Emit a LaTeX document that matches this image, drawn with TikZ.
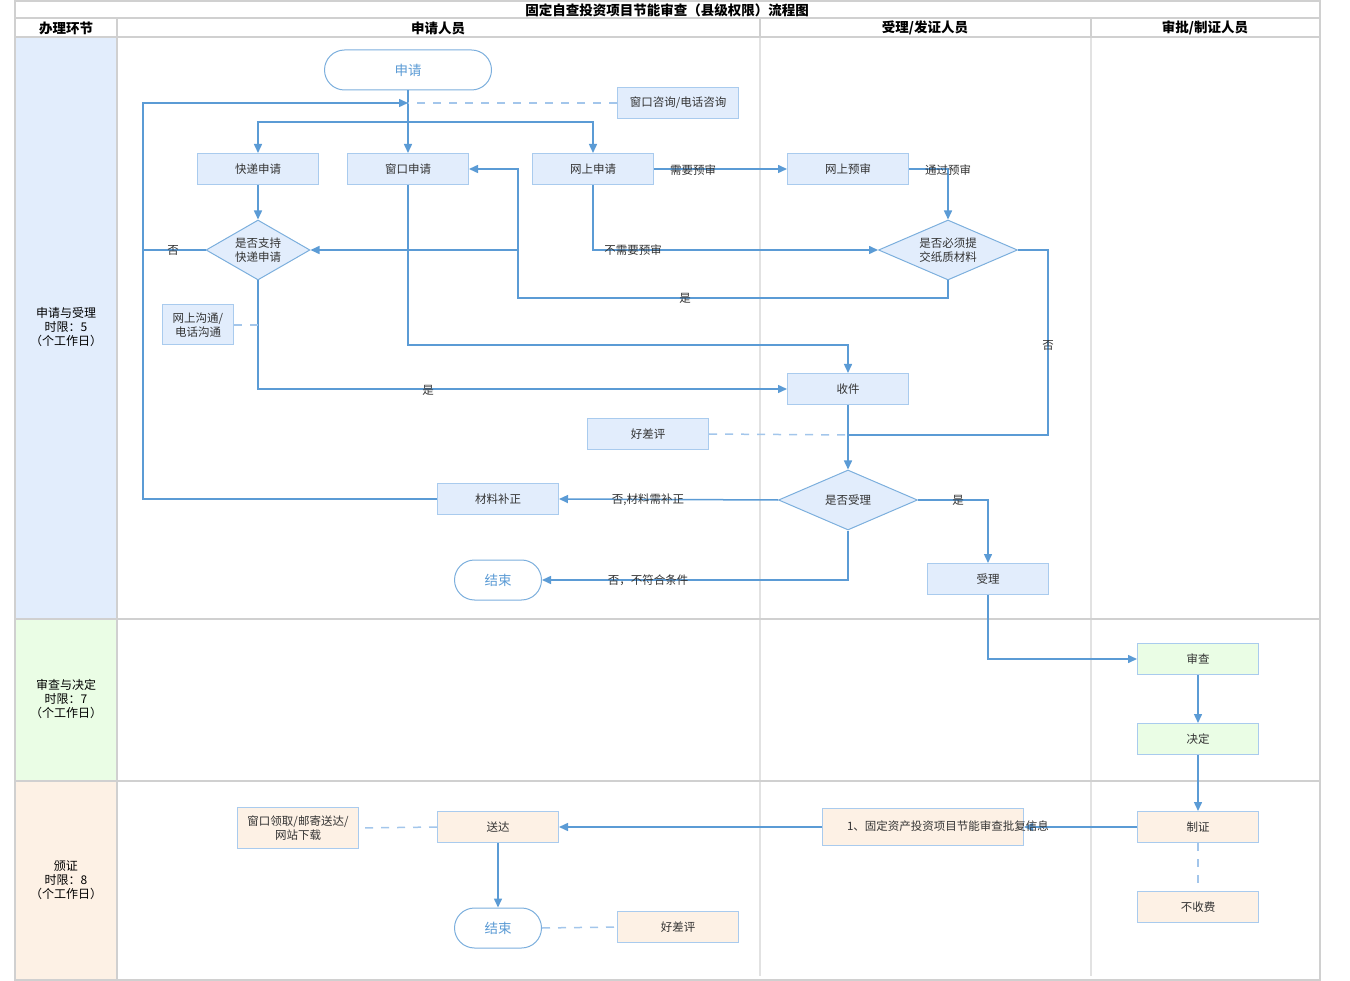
\documentclass[tikz,border=0pt]{standalone}
\usepackage{fontspec}
\setmainfont{Noto Sans CJK SC}
\usetikzlibrary{arrows.meta,shapes.geometric}
\definecolor{lineblue}{HTML}{5B9BD5}
\definecolor{dashblue}{HTML}{A3C6EB}
\definecolor{boxborder}{HTML}{A9CBEE}
\definecolor{boxfill}{HTML}{E2EDFC}
\definecolor{greenfill}{HTML}{EAFDE5}
\definecolor{peachfill}{HTML}{FDF1E5}
\definecolor{gridgrey}{HTML}{D0D0D0}
\definecolor{gridlight}{HTML}{E2E2E2}
\definecolor{textgrey}{HTML}{333333}
\definecolor{termtext}{HTML}{5B9BD5}
\newcommand{\fsbody}{\fontsize{11.5}{14.5}\selectfont}
\newcommand{\fslane}{\fontsize{12}{14}\selectfont}
\newcommand{\fshead}{\fontsize{13.5}{14}\selectfont\bfseries}
\newcommand{\fsterm}{\fontsize{13.5}{14}\selectfont}
\begin{document}
\begin{tikzpicture}[x=1pt,y=-1pt,
  procbox/.style={draw=boxborder, fill=boxfill, line width=1pt, minimum width=121pt, minimum height=31pt, inner sep=0pt, font=\fsbody, text=textgrey, align=center},
  greenbox/.style={procbox, fill=greenfill},
  peachbox/.style={procbox, fill=peachfill},
  termbox/.style={draw=lineblue!80, fill=white, line width=1pt, rounded corners=20pt, minimum width=87pt, minimum height=40pt, inner sep=0pt, font=\fsterm, text=termtext},
  decbox/.style={diamond, draw=lineblue!80, fill=boxfill, line width=1pt, inner sep=0pt},
  dectext/.style={font=\fsbody, text=textgrey, align=center},
  conn/.style={draw=lineblue, line width=1.5pt, -{Triangle[length=9pt,width=8pt]}},
  conn0/.style={draw=lineblue, line width=1.5pt},
  dashline/.style={draw=dashblue, line width=1.5pt, dash pattern=on 8pt off 8pt},
  lbl/.style={font=\fsbody, text=textgrey, inner sep=1pt},
  hdr/.style={font=\fshead, text=black},
  lanetext/.style={font=\fslane, text=black, align=center},
  grid/.style={draw=gridgrey, line width=2pt},
  gridl/.style={draw=gridlight, line width=1.5pt}
]
\useasboundingbox (0,0) rectangle (1350,981);
% lane label fills
\fill[boxfill] (15,37) rectangle (117,619);
\fill[greenfill] (15,619) rectangle (117,781);
\fill[peachfill] (15,781) rectangle (117,980);
% grid
\draw[gridl] (760,37) -- (760,976);
\draw[gridl] (1091,37) -- (1091,976);
\draw[grid] (15,1) rectangle (1320,980);
\draw[grid] (15,18) -- (1320,18);
\draw[grid] (15,37) -- (1320,37);
\draw[grid] (15,619) -- (1320,619);
\draw[grid] (15,781) -- (1320,781);
\draw[grid] (117,18) -- (117,980);
\draw[grid] (760,18) -- (760,37);
\draw[grid] (1091,18) -- (1091,37);
% headers
\node[hdr] (title) at (667,10) {固定自查投资项目节能审查（县级权限）流程图};
\node[hdr] (h0) at (66,28) {办理环节};
\node[hdr] (h1) at (438,28) {申请人员};
\node[hdr] (h2) at (925,28) {受理/发证人员};
\node[hdr] (h3) at (1205,28) {审批/制证人员};
\node[lanetext] (lane1) at (66,327) {申请与受理\\时限：5\\（个工作日）};
\node[lanetext] (lane2) at (66,699) {审查与决定\\时限：7\\（个工作日）};
\node[lanetext] (lane3) at (66,880) {颁证\\时限：8\\（个工作日）};
% nodes
\node[termbox, minimum width=167pt] (start) at (408,70) {申请};
\node[procbox] (consult) at (678,103) {窗口咨询/电话咨询};
\node[procbox] (express) at (258,169) {快递申请};
\node[procbox] (winapp) at (408,169) {窗口申请};
\node[procbox] (online) at (593,169) {网上申请};
\node[procbox] (precheck) at (848,169) {网上预审};
\node[decbox, minimum width=104pt, minimum height=60pt] (d1) at (258,250) {};
\node[dectext] (d1t) at (d1) {是否支持\\快递申请};
\node[decbox, minimum width=139pt, minimum height=60pt] (d2) at (948,250) {};
\node[dectext] (d2t) at (d2) {是否必须提\\交纸质材料};
\node[procbox, minimum width=71pt, minimum height=40pt] (comm) at (198,325) {网上沟通/\\电话沟通};
\node[procbox] (receive) at (848,389) {收件};
\node[procbox] (eval1) at (648,434) {好差评};
\node[decbox, minimum width=139pt, minimum height=60pt] (d3) at (848,500) {};
\node[dectext] (d3t) at (d3) {是否受理};
\node[procbox] (fix) at (498,499) {材料补正};
\node[termbox] (end1) at (498,580) {结束};
\node[procbox] (accept) at (988,579) {受理};
\node[greenbox] (review) at (1198,659) {审查};
\node[greenbox] (decide) at (1198,739) {决定};
\node[peachbox] (cert) at (1198,827) {制证};
\node[peachbox] (nofee) at (1198,907) {不收费};
\node[peachbox, minimum width=201pt, minimum height=37pt] (info) at (923,827) {};
\node[peachbox] (deliver) at (498,827) {送达};
\node[peachbox, minimum height=41pt] (pickup) at (298,828) {窗口领取/邮寄送达/\\网站下载};
\node[termbox] (end2) at (498,928) {结束};
\node[peachbox] (eval2) at (678,927) {好差评};
% helper coordinates
\coordinate (br) at (408,122);
\coordinate (loopin) at (408,103);
\coordinate (loopa) at (143,499);
\coordinate (loopb) at (143,103);
\coordinate (nojoin) at (143,250);
\coordinate (yesa) at (518,298);
\coordinate (yesb) at (518,169);
\coordinate (yesc) at (518,250);
\coordinate (wina) at (848,345);
\coordinate (noa) at (1048,435);
\coordinate (nob) at (848,435);
\coordinate (commend) at (259,325);
% connectors
\draw[conn] (start.south) -- (winapp.north);
\draw[conn] (br) -| (express.north);
\draw[conn] (br) -| (online.north);
\draw[dashline] (consult.west) -- (loopin);
\draw[conn] (fix.west) -- (loopa) -- (loopb) -- (loopin);
\draw[conn0] (d1.west) -- (nojoin);
\draw[conn] (express.south) -- (d1.north);
\draw[conn] (online.east) -- (precheck.west);
\draw[conn] (precheck.east) -| (d2.north);
\draw[conn] (online.south) |- (d2.west);
\draw[conn] (d2.south) |- (yesa) -- (yesb) -- (winapp.east);
\draw[conn] (yesc) -- (d1.east);
\draw[conn] (winapp.south) |- (wina) -- (receive.north);
\draw[conn] (d1.south) |- (receive.west);
\draw[dashline] (comm.east) -- (commend);
\draw[conn0] (d2.east) -| (noa) -- (nob);
\draw[conn] (receive.south) -- (d3.north);
\draw[dashline] (eval1.east) -- (nob);
\draw[conn] (d3.west) -- (fix.east);
\draw[conn] (d3.south) |- (end1.east);
\draw[conn] (d3.east) -| (accept.north);
\draw[conn] (accept.south) |- (review.west);
\draw[conn] (review.south) -- (decide.north);
\draw[conn] (decide.south) -- (cert.north);
\draw[conn] (cert.west) -- (info.east);
\draw[conn] (info.west) -- (deliver.east);
\draw[dashline] (deliver.west) -- (pickup.east);
\draw[conn] (deliver.south) -- (end2.north);
\draw[dashline] (end2.east) -- (eval2.west);
\draw[dashline] (cert.south) -- (nofee.north);
% labels
\node[lbl] (infot) at (948,826) {1、固定资产投资项目节能审查批复信息};
\node[lbl] (l1) at (173,250) {否};
\node[lbl] (l2) at (693,170) {需要预审};
\node[lbl] (l3) at (948,170) {通过预审};
\node[lbl] (l4) at (633,250) {不需要预审};
\node[lbl] (l5) at (685,298) {是};
\node[lbl] (l6) at (428,390) {是};
\node[lbl] (l7) at (1048,345) {否};
\node[lbl] (l8) at (648,500) {否,材料需补正};
\node[lbl] (l9) at (648,580) {否，不符合条件};
\node[lbl] (l10) at (958,500) {是};
\end{tikzpicture}
\end{document}
